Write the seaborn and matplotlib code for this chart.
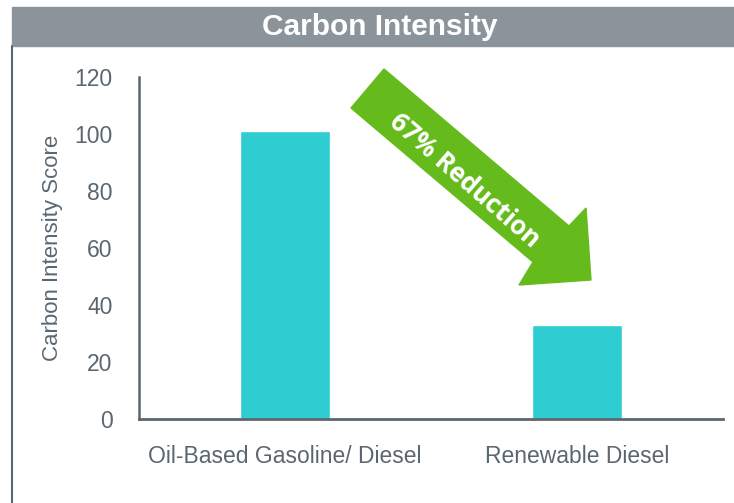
import pandas as pd
import seaborn as sns
import matplotlib.pyplot as plt
from matplotlib.patches import Polygon, Rectangle
from matplotlib.lines import Line2D

fuels = ['Oil-Based Gasoline/ Diesel', 'Renewable Diesel']
scores = [101, 33]
y_ticks = [0, 20, 40, 60, 80, 100, 120]

sns.set_theme(style='white')
plt.rcParams['font.family'] = ['Liberation Sans', 'DejaVu Sans']

text_gray = '#5b6770'
bar_color = '#2ecdd2'
head_gray = '#8c949b'
green = '#66bb1c'

df = pd.DataFrame({'fuel': fuels, 'score': scores})

fig = plt.figure(figsize=(7.34, 5.03), dpi=100)
ax = fig.add_axes([0.1894, 0.167, 0.796, 0.680])
sns.barplot(data=df, x='fuel', y='score', color=bar_color, width=0.31,
            saturation=1, ax=ax)

ax.set_ylim(0, 120)
ax.set_yticks(y_ticks)
ax.tick_params(axis='both', length=0, colors=text_gray, labelsize=16.5)
ax.tick_params(axis='y', pad=19)
ax.tick_params(axis='x', pad=19)
ax.set_xlabel(None)
ax.set_ylabel('Carbon Intensity Score', color=text_gray, fontsize=16, labelpad=8)
for side in ['top', 'right']:
    ax.spines[side].set_visible(False)
ax.spines['left'].set_color(text_gray)
ax.spines['left'].set_linewidth(1.8)
ax.spines['bottom'].set_color(text_gray)
ax.spines['bottom'].set_linewidth(2)

# header band and left border
px = fig.dpi_scale_trans
def P(x, y):
    return (x / 100, (503 - y) / 100)

fig.patches.append(Rectangle(P(12, 46), 7.22, 0.39, transform=px,
                             color=head_gray, zorder=0))
fig.lines.append(Line2D([0.12, 0.12], [0, (503 - 46) / 100], transform=px,
                        color=text_gray, lw=1.5))
fig.text(380 / 734, 1 - 27 / 503, 'Carbon Intensity', color='white',
         fontsize=21.5, fontweight='bold', ha='center', va='center')

# reduction arrow
arrow_pts = [P(384, 69), P(569, 226), P(586, 208), P(591, 280),
             P(519, 285), P(533, 262), P(351, 108)]
fig.patches.append(Polygon(arrow_pts, closed=True, transform=px,
                           color=green, zorder=3))
fig.text(465 / 734, 1 - 181 / 503, '67% Reduction', color='white',
         fontsize=18.5, fontweight='bold', rotation=-41,
         rotation_mode='anchor', ha='center', va='center',
         family=['Open Sans', 'DejaVu Sans'], zorder=4)

plt.savefig('out.png', dpi=100)
